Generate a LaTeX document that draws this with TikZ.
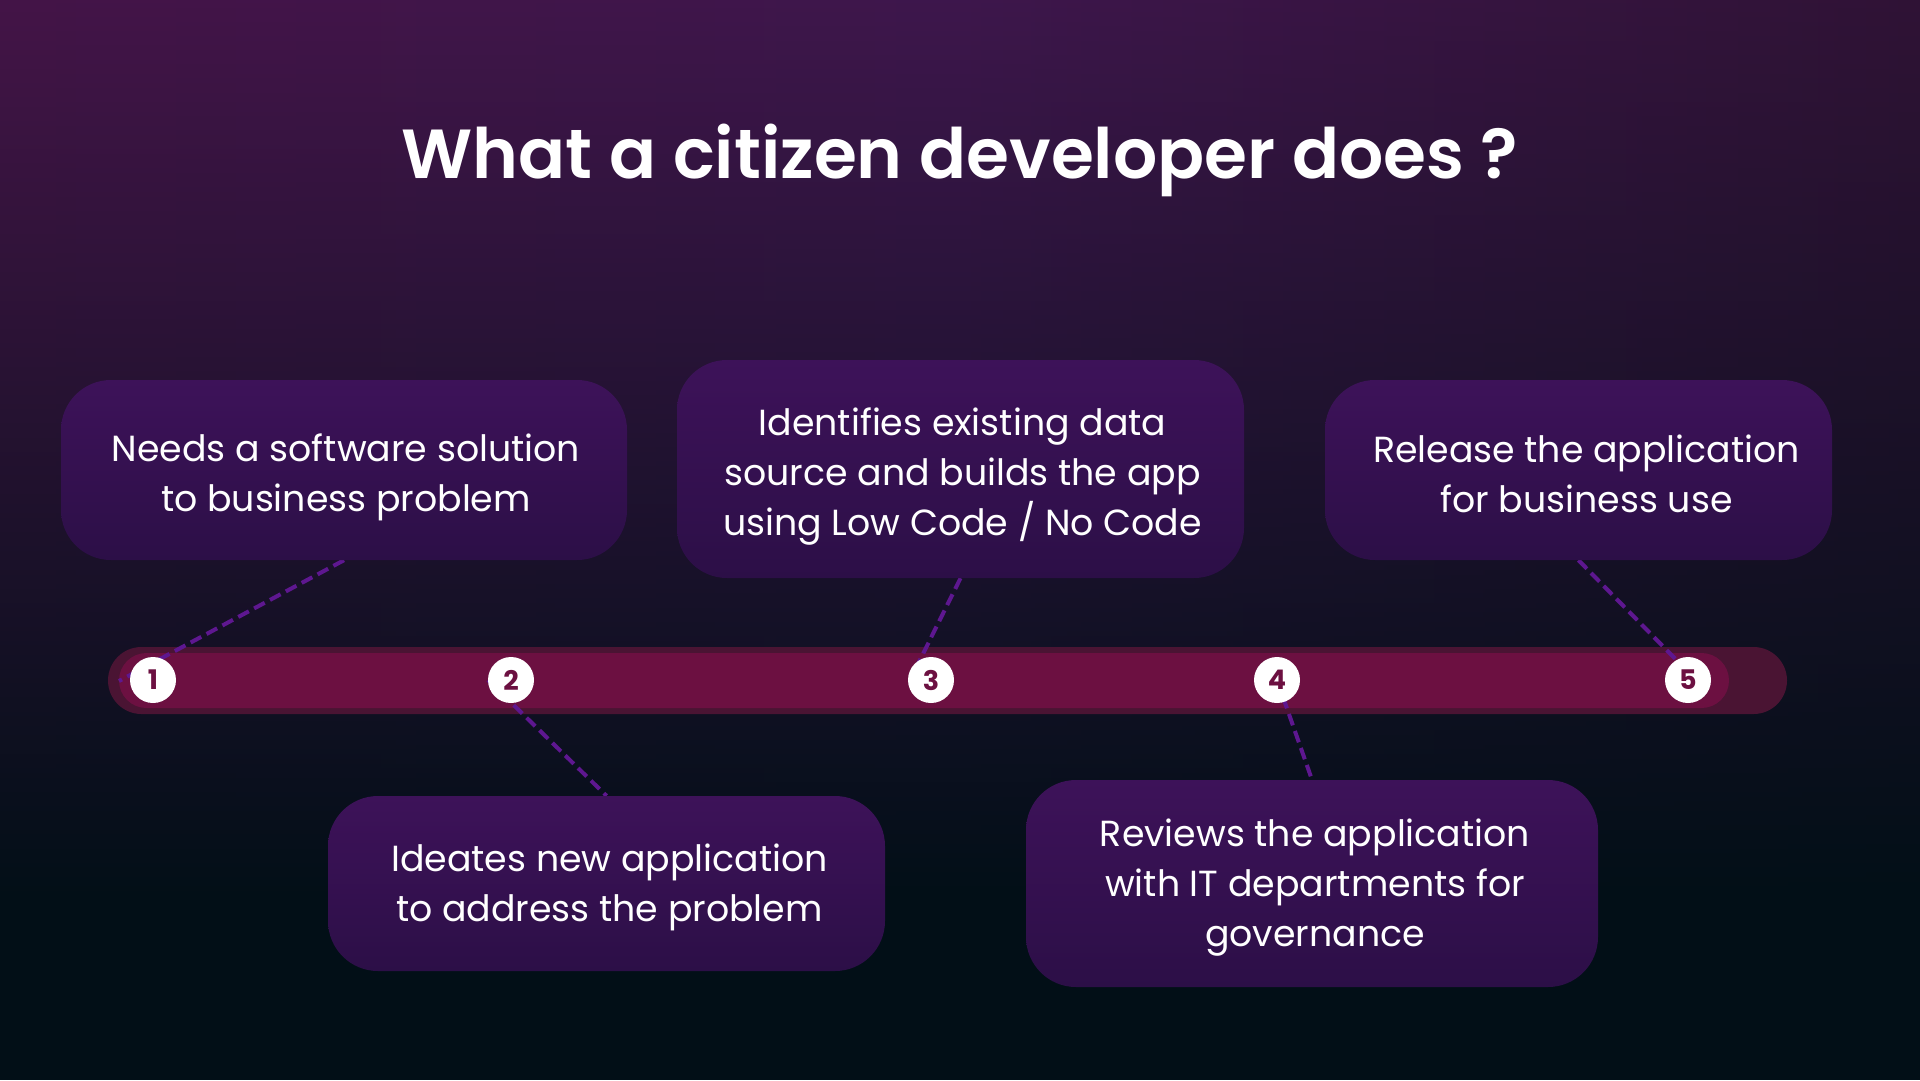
\documentclass[tikz,border=0pt]{standalone}
\usepackage{fontspec}
\setmainfont{Poppins}
\newfontfamily\titlefont{Poppins SemiBold}
\usetikzlibrary{fadings}
\definecolor{bgdark}{HTML}{020F17}
\definecolor{bgleft}{HTML}{621452}
\definecolor{bgmid}{HTML}{52195E}
\definecolor{bgright}{HTML}{2C0F22}
\definecolor{boxtop}{HTML}{3D1259}
\definecolor{boxbot}{HTML}{2C0F47}
\definecolor{barouter}{HTML}{4A1433}
\definecolor{barinner}{HTML}{6C1041}
\definecolor{dashcol}{HTML}{5E1790}
\definecolor{numcol}{HTML}{6C1041}
\tikzfading[name=fadedown, top color=transparent!0, bottom color=transparent!100]
\pgfdeclarelayer{bg}
\pgfdeclarelayer{mid}
\pgfsetlayers{bg,mid,main}
\tikzset{
  stepbox/.style={rectangle, rounded corners=50pt, top color=boxtop, bottom color=boxbot,
    draw=none, inner sep=0pt},
  boxtext/.style={align=center, text=white, inner sep=0pt,
    font=\fontsize{36.3}{50}\selectfont},
  numdot/.style={circle, fill=white, minimum size=46pt, inner sep=0pt, text=numcol,
    font=\bfseries\fontsize{27}{27}\selectfont},
  link/.style={draw=dashcol, line width=4pt, dash pattern=on 12pt off 6pt},
}
\begin{document}
\begin{tikzpicture}[x=1pt,y=-1pt]
\useasboundingbox (0,0) rectangle (1920,1080);
\begin{pgfonlayer}{bg}
\fill[bgdark] (0,0) rectangle (1920,1080);
\begin{scope}
\clip (0,0) rectangle (1920,1080);
\shade[left color=bgleft, right color=bgright, middle color=bgmid, path fading=fadedown]
  (-960,-300) rectangle (2880,900);
\end{scope}
\node[rectangle, rounded corners=33.5pt, fill=barouter, minimum width=1679pt, minimum height=67pt, inner sep=0pt] (barO) at (947.5,680.5) {};
\node[rectangle, rounded corners=27.5pt, fill=barinner, minimum width=1610pt, minimum height=55pt, inner sep=0pt] (barI) at (924,680.5) {};
\end{pgfonlayer}

\node[text=white, font=\titlefont\fontsize{69.5}{69.5}\selectfont, anchor=base] (title) at (960,178) {What a citizen developer does ?};

\node[stepbox, minimum width=566pt, minimum height=180pt,
  label={[boxtext, xshift=2pt, yshift=-7pt]center:{Needs a software solution\\to business problem}}] (b1) at (344,470) {};
\node[stepbox, minimum width=567pt, minimum height=218pt,
  label={[boxtext, xshift=2pt, yshift=-8pt]center:{Identifies existing data\\source and builds the app\\using Low Code / No Code}}] (b2) at (960.5,469) {};
\node[stepbox, minimum width=507pt, minimum height=180pt,
  label={[boxtext, xshift=8pt, yshift=-4pt]center:{Release the application\\for business use}}] (b3) at (1578.5,470) {};
\node[stepbox, minimum width=557pt, minimum height=175pt,
  label={[boxtext, xshift=3pt, yshift=-4pt]center:{Ideates new application\\to address the problem}}] (b4) at (606.5,883.5) {};
\node[stepbox, minimum width=572pt, minimum height=207pt,
  label={[boxtext, xshift=3pt, yshift=-4pt]center:{Reviews the application\\with IT departments for\\governance}}] (b5) at (1312,883.5) {};

\node[numdot] (c1) at (153,680) {1};
\node[numdot] (c2) at (511,680) {2};
\node[numdot] (c3) at (931,680) {3};
\node[numdot] (c4) at (1277,680) {4};
\node[numdot] (c5) at (1688,680) {5};

\coordinate (e1) at (119,681);
\coordinate (e2) at (488,680);
\coordinate (e3) at (914,672);
\coordinate (e5) at (1696,680);

\begin{pgfonlayer}{mid}
\draw[link] (b1.south) -- (e1);
\draw[link] (e2) -- (b4.north);
\draw[link] (b2.south) -- (e3);
\draw[link] (c4.center) -- (b5.north);
\draw[link] (b3.south) -- (e5);
\end{pgfonlayer}
\end{tikzpicture}
\end{document}
